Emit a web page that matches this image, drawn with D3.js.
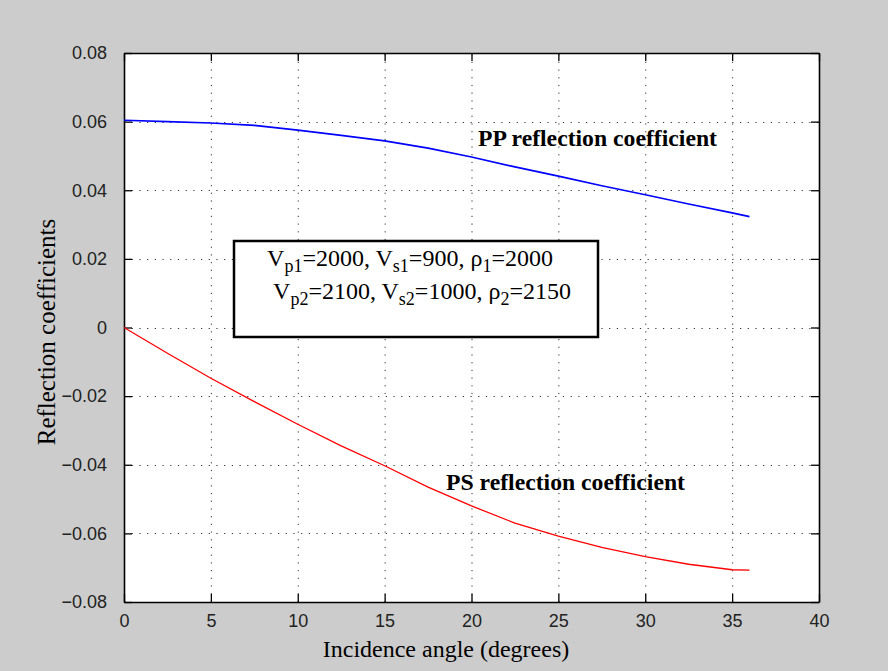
<!doctype html>
<html lang="en">
  <head>
    <meta charset="utf-8">
    <title>Reflection coefficients</title>
    <script src="https://d3js.org/d3.v7.min.js"></script>
    <style>
      body { margin: 0; background: #cccccc; }
      svg { display: block; }
    </style>
  </head>

  <body>
    <svg width="888" height="671"></svg>

    <script>
      // values
      var angles = [0, 2.5, 5, 7.5, 10, 12.5, 15, 17.5, 20, 22.5, 25, 27.5, 30, 32.5, 35, 36];
      var ppCoef = [0.0604, 0.0600, 0.0596, 0.0589, 0.0575, 0.0560, 0.0544, 0.0523, 0.0497, 0.0468, 0.0441, 0.0413, 0.0387, 0.0360, 0.0334, 0.0323];
      var psCoef = [0, -0.0075, -0.0148, -0.0216, -0.0282, -0.0345, -0.0403, -0.0465, -0.0520, -0.0570, -0.0608, -0.0641, -0.0668, -0.0690, -0.0706, -0.0707];
      var xTicks = [0, 5, 10, 15, 20, 25, 30, 35, 40];
      var yTicks = [-0.08, -0.06, -0.04, -0.02, 0, 0.02, 0.04, 0.06, 0.08];

      var svg = d3.select('svg');
      var pLeft = 124, pTop = 53, pRight = 819, pBottom = 602;

      svg.append('rect').attr('width', 888).attr('height', 671).style('fill', '#cccccc');

      var x = d3.scaleLinear().domain([0, 40]).range([pLeft, pRight]);
      var y = d3.scaleLinear().domain([-0.08, 0.08]).range([pBottom, pTop]);

      svg.append('rect')
        .attr('x', pLeft).attr('y', pTop)
        .attr('width', pRight - pLeft).attr('height', pBottom - pTop)
        .style('fill', '#ffffff');

      // dotted grid
      var grid = svg.append('g').style('stroke', '#333').style('stroke-width', 1).style('stroke-dasharray', '1.2,6.5');
      grid.selectAll('.gx').data(xTicks.slice(1, -1)).enter().append('line')
        .attr('x1', function(d){ return x(d) + 0.5; }).attr('x2', function(d){ return x(d) + 0.5; })
        .attr('y1', pBottom).attr('y2', pTop);
      grid.selectAll('.gy').data(yTicks.slice(1, -1)).enter().append('line')
        .attr('y1', function(d){ return Math.round(y(d)) + 0.5; }).attr('y2', function(d){ return Math.round(y(d)) + 0.5; })
        .attr('x1', pLeft).attr('x2', pRight);

      var fmt = function(d){ return d === 0 ? '0' : (d < 0 ? '\u2212' : '') + Math.abs(d).toFixed(2); };
      var tickFont = '"Liberation Sans", Arial, sans-serif';

      // axes with inward ticks on all four sides
      var xAxis = svg.append('g').attr('transform', 'translate(0,' + pBottom + ')')
        .call(d3.axisBottom(x).tickValues(xTicks).tickSizeInner(-8).tickSizeOuter(0).tickPadding(12));
      var xTop = svg.append('g').attr('transform', 'translate(0,' + pTop + ')')
        .call(d3.axisTop(x).tickValues(xTicks).tickSizeInner(-8).tickSizeOuter(0).tickFormat(''));
      var yAxis = svg.append('g').attr('transform', 'translate(' + pLeft + ',0)')
        .call(d3.axisLeft(y).tickValues(yTicks).tickSizeInner(-8).tickSizeOuter(0).tickPadding(17).tickFormat(fmt));
      var yRight = svg.append('g').attr('transform', 'translate(' + pRight + ',0)')
        .call(d3.axisRight(y).tickValues(yTicks).tickSizeInner(-8).tickSizeOuter(0).tickFormat(''));

      [xAxis, xTop, yAxis, yRight].forEach(function(g){
        g.selectAll('.domain').style('stroke', '#000').style('stroke-width', 1.6);
        g.selectAll('.tick line').style('stroke', '#000').style('stroke-width', 1.3);
        g.selectAll('.tick text').style('font-family', tickFont).style('font-size', '18px').style('fill', '#222');
      });

      // curves
      var line = function(vals){
        return d3.line().x(function(d, i){ return x(angles[i]); }).y(function(d){ return y(d); })(vals);
      };
      svg.append('path').attr('d', line(ppCoef))
        .style('fill', 'none').style('stroke', '#0000ff').style('stroke-width', 1.7);
      svg.append('path').attr('d', line(psCoef))
        .style('fill', 'none').style('stroke', '#ff0000').style('stroke-width', 1.3);

      var serif = '"Liberation Serif", "Times New Roman", serif';

      // curve labels
      svg.append('text').attr('x', 478).attr('y', 146).text('PP reflection coefficient')
        .style('font-family', serif).style('font-weight', 'bold').style('font-size', '23.7px');
      svg.append('text').attr('x', 446).attr('y', 490).text('PS reflection coefficient')
        .style('font-family', serif).style('font-weight', 'bold').style('font-size', '23.7px');

      // parameter box
      svg.append('rect').attr('x', 234).attr('y', 241).attr('width', 364).attr('height', 96)
        .style('fill', '#fff').style('stroke', '#000').style('stroke-width', 2.5);

      var params = [
        [['V', 'p1', '=2000, '], ['V', 's1', '=900, '], ['\u03c1', '1', '=2000']],
        [['V', 'p2', '=2100, '], ['V', 's2', '=1000, '], ['\u03c1', '2', '=2150']]
      ];
      var rowCx = [410, 422];
      params.forEach(function(row, r){
        var t = svg.append('text').attr('x', rowCx[r]).attr('y', 266 + r * 33).attr('text-anchor', 'middle')
          .style('font-family', serif).style('font-size', '24px');
        row.forEach(function(p){
          t.append('tspan').text(p[0]);
          t.append('tspan').attr('dy', 6).style('font-size', '18px').text(p[1]);
          t.append('tspan').attr('dy', -6).text(p[2]);
        });
      });

      // axis titles
      svg.append('text').attr('x', 446).attr('y', 657).attr('text-anchor', 'middle')
        .text('Incidence angle (degrees)')
        .style('font-family', serif).style('font-size', '24px');
      svg.append('text').attr('transform', 'translate(55,332) rotate(-90)').attr('text-anchor', 'middle')
        .text('Reflection coefficients')
        .style('font-family', serif).style('font-size', '25px');
    </script>
  </body>
</html>
